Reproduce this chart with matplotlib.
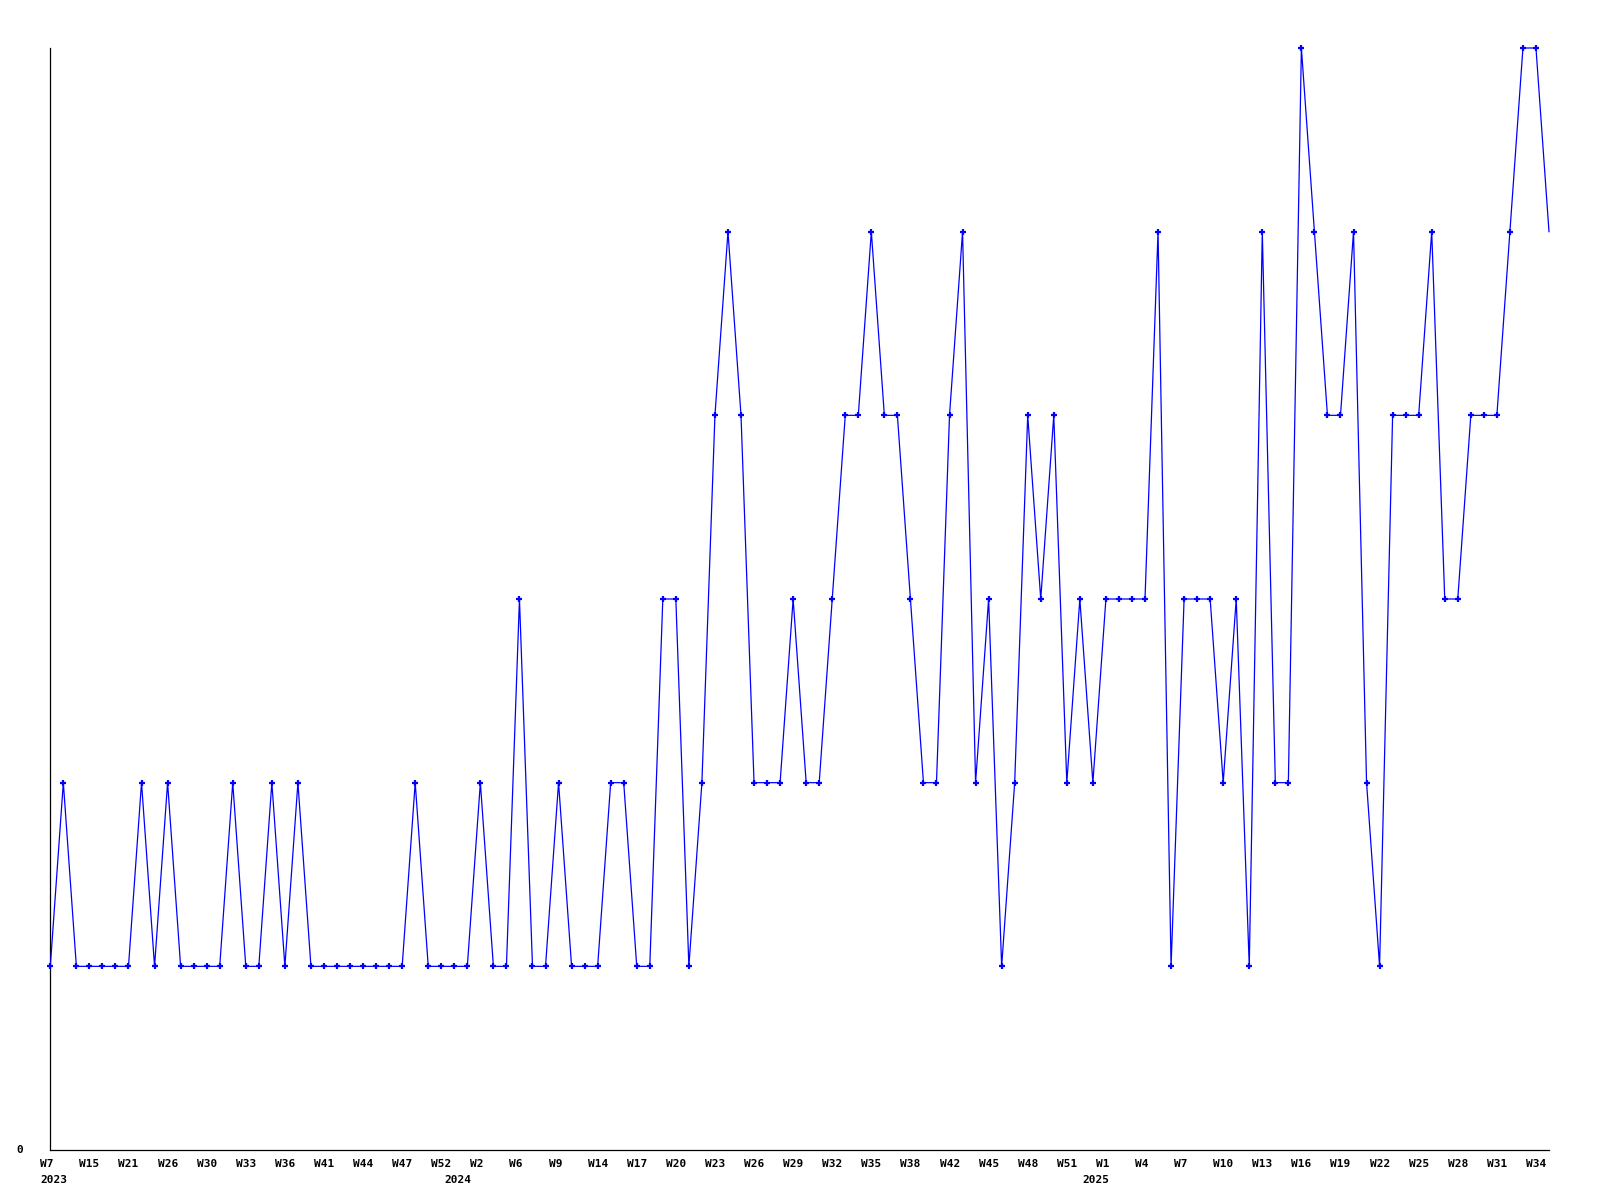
import matplotlib
matplotlib.use("Agg")
import matplotlib.pyplot as plt
import matplotlib.transforms as mtransforms

# weekly values, one per data row
values = [1, 2, 1, 1, 1, 1, 1, 2, 1, 2, 1, 1, 1, 1, 2, 1, 1, 2, 1, 2,
          1, 1, 1, 1, 1, 1, 1, 1, 2, 1, 1, 1, 1, 2, 1, 1, 3, 1, 1, 2,
          1, 1, 1, 2, 2, 1, 1, 3, 3, 1, 2, 4, 5, 4, 2, 2, 2, 3, 2, 2,
          3, 4, 4, 5, 4, 4, 3, 2, 2, 4, 5, 2, 3, 1, 2, 4, 3, 4, 2, 3,
          2, 3, 3, 3, 3, 5, 1, 3, 3, 3, 2, 3, 1, 5, 2, 2, 6, 5, 4, 4,
          5, 2, 1, 4, 4, 4, 5, 3, 3, 4, 4, 4, 5, 6, 6, 5]

# labels shown on every third row
week_labels = ["W7", "W15", "W21", "W26", "W30", "W33", "W36", "W41", "W44",
               "W47", "W52", "W2", "W6", "W9", "W14", "W17", "W20", "W23",
               "W26", "W29", "W32", "W35", "W38", "W42", "W45", "W48", "W51",
               "W1", "W4", "W7", "W10", "W13", "W16", "W19", "W22", "W25",
               "W28", "W31", "W34"]

# row index where each year starts
year_rows = [0, 31, 80]
year_labels = ["2023", "2024", "2025"]

x = list(range(len(values)))

fig = plt.figure(figsize=(16, 12), dpi=100)
ax = fig.add_axes([50.3 / 1600, 50 / 1200, (1549 - 50.3) / 1600, (1151 - 49) / 1200])

# last (current) week is drawn without a marker
ax.plot(x, values, color="#0000ff", linewidth=0.9,
        marker="+", markersize=5, markeredgewidth=1.6,
        markeredgecolor="#0000ff", markevery=list(range(len(values) - 1)),
        clip_on=False, zorder=3)

ax.set_xlim(0, len(values) - 1)
ax.set_ylim(0, 6)

for side in ["top", "right"]:
    ax.spines[side].set_visible(False)
for side in ["left", "bottom"]:
    ax.spines[side].set_linewidth(0.9)
    ax.spines[side].set_color("black")

ax.set_xticks([])
ax.set_yticks([])

font = dict(family="DejaVu Sans Mono", fontweight="bold", fontsize=8, color="black")

# labels are left aligned 10px before their point
shift = mtransforms.ScaledTranslation(-10 / 100, 0, fig.dpi_scale_trans)
trans = mtransforms.blended_transform_factory(ax.transData, ax.transAxes) + shift

for i, lab in zip(range(0, len(values), 3), week_labels):
    ax.text(i, -0.0125, lab, transform=trans, ha="left", va="center", **font)

for i, lab in zip(year_rows, year_labels):
    ax.text(i, -0.027, lab, transform=trans, ha="left", va="center", **font)

ax.text(-0.018, 0, "0", transform=ax.transAxes, ha="right", va="center", **font)

fig.savefig("out.png", dpi=100)
